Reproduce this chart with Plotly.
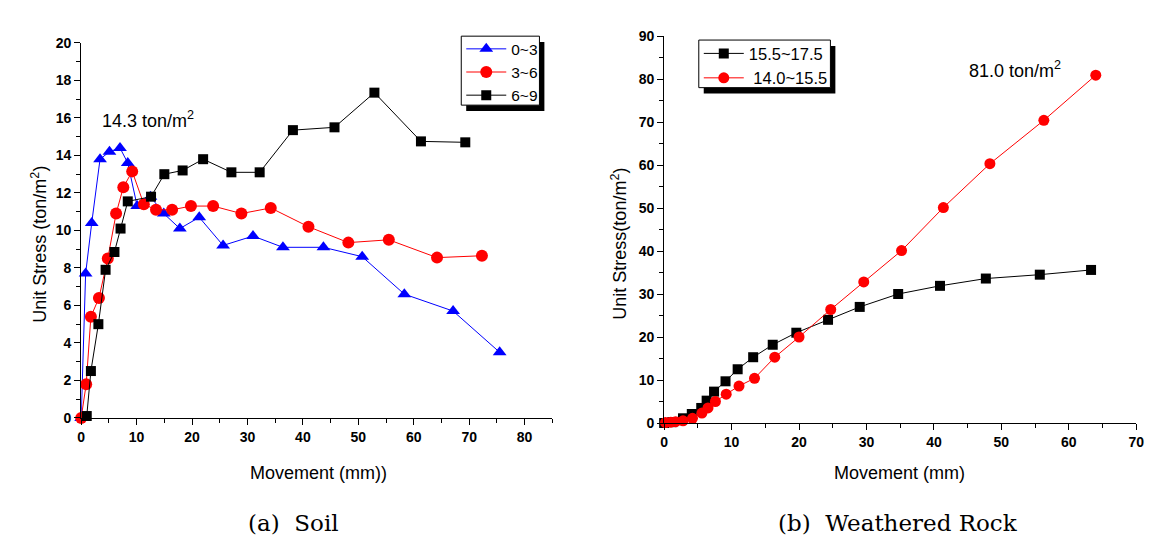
import plotly.graph_objects as go

W, H = 1168, 558

# ---------------- data: (a) Soil ----------------
soil_names = ["0~3", "3~6", "6~9"]
soil_x_03 = [0.0, 0.8, 1.9, 3.4, 5.1, 7.0, 8.4, 10.1, 12.5, 14.9, 17.8, 21.3, 25.6, 31.0, 36.4, 43.7, 50.7, 58.3, 67.1, 75.5]
soil_y_03 = [0.0, 7.7, 10.4, 13.8, 14.2, 14.4, 13.6, 11.3, 11.8, 10.9, 10.1, 10.7, 9.2, 9.7, 9.1, 9.1, 8.6, 6.6, 5.7, 3.5]
soil_x_36 = [0.0, 0.9, 1.75, 3.2, 4.8, 6.3, 7.6, 9.2, 11.3, 13.5, 16.4, 19.8, 23.8, 28.9, 34.2, 41.0, 48.2, 55.5, 64.2, 72.3]
soil_y_36 = [0.0, 1.8, 5.4, 6.4, 8.5, 10.9, 12.3, 13.15, 11.4, 11.1, 11.1, 11.3, 11.3, 10.9, 11.2, 10.2, 9.35, 9.5, 8.55, 8.65]
soil_x_69 = [1.0, 1.75, 3.1, 4.4, 6.0, 7.1, 8.4, 12.6, 15.0, 18.3, 22.0, 27.1, 32.2, 38.2, 45.7, 52.9, 61.3, 69.3]
soil_y_69 = [0.1, 2.5, 5.0, 7.9, 8.85, 10.1, 11.55, 11.8, 13.0, 13.2, 13.8, 13.1, 13.1, 15.35, 15.5, 17.35, 14.75, 14.7]

# ---------------- data: (b) Weathered Rock ----------------
rock_names = ["15.5~17.5", " 14.0~15.5"]
rock_x_a = [0.0, 1.2, 2.8, 4.1, 5.5, 6.3, 7.4, 9.1, 10.9, 13.2, 16.1, 19.6, 24.3, 29.0, 34.7, 40.9, 47.7, 55.7, 63.3]
rock_y_a = [0.1, 0.3, 1.2, 2.2, 3.6, 5.3, 7.4, 9.8, 12.6, 15.4, 18.3, 21.1, 24.1, 27.1, 30.1, 32.0, 33.7, 34.6, 35.7]
rock_x_b = [0.2, 1.0, 1.7, 2.8, 4.2, 5.6, 6.5, 7.6, 9.2, 11.1, 13.4, 16.4, 20.0, 24.7, 29.6, 35.2, 41.4, 48.3, 56.3, 64.0]
rock_y_b = [0.2, 0.3, 0.4, 0.6, 1.2, 2.4, 3.6, 5.1, 6.8, 8.7, 10.5, 15.4, 20.1, 26.5, 32.9, 40.2, 50.2, 60.4, 70.5, 81.0]

def px(x):
    return x / W

def py(y):
    return 1 - y / H

fig = go.Figure()

def add(x, y, name, color, symbol, size, xa, ya, legend):
    fig.add_trace(go.Scatter(
        x=x, y=y, name=name, mode="lines+markers",
        line=dict(color=color, width=1),
        marker=dict(color=color, symbol=symbol, size=size, line=dict(width=0)),
        xaxis=xa, yaxis=ya, legend=legend, cliponaxis=False))

add(soil_x_03, soil_y_03, soil_names[0], "#0000FF", "triangle-up", 12, "x", "y", "legend")
add(soil_x_36, soil_y_36, soil_names[1], "#FF0000", "circle", 12, "x", "y", "legend")
add(soil_x_69, soil_y_69, soil_names[2], "#000000", "square", 10, "x", "y", "legend")
add(rock_x_a, rock_y_a, rock_names[0], "#000000", "square", 10, "x2", "y2", "legend2")
add(rock_x_b, rock_y_b, rock_names[1], "#FF0000", "circle", 11, "x2", "y2", "legend2")

tickfont = dict(family="Liberation Sans, Arial", size=14, color="black", weight="bold")
axcommon = dict(showgrid=False, zeroline=False, showline=True, linecolor="black", linewidth=1,
                ticks="outside", ticklen=6, tickwidth=1, tickcolor="black", tickfont=tickfont,
                mirror=False)

fig.update_layout(
    width=W, height=H, margin=dict(l=0, r=0, t=0, b=0),
    paper_bgcolor="white", plot_bgcolor="white",
    xaxis=dict(domain=[px(78), px(554)], range=[0, 85], dtick=10, tick0=0,
               minor=dict(dtick=5, ticklen=4, ticks="outside", tickcolor="black"),
               anchor="y", **axcommon),
    yaxis=dict(domain=[py(422), py(36)], range=[0, 20], dtick=2, tick0=0,
               minor=dict(dtick=1, ticklen=4, ticks="outside", tickcolor="black"),
               anchor="x", **axcommon),
    xaxis2=dict(domain=[px(667), px(1144)], range=[0, 70], dtick=10, tick0=0,
                minor=dict(dtick=5, ticklen=4, ticks="outside", tickcolor="black"),
                anchor="y2", **axcommon),
    yaxis2=dict(domain=[py(427.7), py(29.3)], range=[0, 90], dtick=10, tick0=0,
                minor=dict(dtick=5, ticklen=4, ticks="outside", tickcolor="black"),
                anchor="x2", **axcommon),
    legend=dict(x=px(462), y=py(25), xanchor="left", yanchor="top",
                bgcolor="rgba(0,0,0,0)", borderwidth=0,
                font=dict(family="Liberation Sans, Arial", size=15.5, color="black"),
                tracegroupgap=0, itemwidth=40),
    legend2=dict(x=px(702), y=py(29), xanchor="left", yanchor="top",
                 bgcolor="rgba(0,0,0,0)", borderwidth=0,
                 font=dict(family="Liberation Sans, Arial", size=16.5, color="black"),
                 tracegroupgap=0, itemwidth=40),
    showlegend=True,
)

# legend frames with drop shadows (shadow first, white framed box on top)
for (l, t, r, b) in [(462, 29, 541, 100), (702, 33, 835, 82)]:
    fig.add_shape(type="rect", xref="paper", yref="paper",
                  x0=px(l + 5), x1=px(r + 5), y0=py(b + 6), y1=py(t + 6),
                  fillcolor="black", line=dict(width=0), layer="above")
    fig.add_shape(type="rect", xref="paper", yref="paper",
                  x0=px(l), x1=px(r), y0=py(b), y1=py(t),
                  fillcolor="white", line=dict(color="black", width=1), layer="above")

afont = dict(family="Liberation Sans, Arial", size=18, color="black")
cfont = dict(family="DejaVu Serif, Liberation Serif", size=23, color="black")
ann = [
    dict(text="14.3 ton/m<sup>2</sup>", x=px(97), y=py(115), xanchor="left", yanchor="middle", font=afont),
    dict(text="81.0 ton/m<sup>2</sup>", x=px(973), y=py(63), xanchor="left", yanchor="middle", font=afont),
    dict(text="Movement (mm))", x=px(318), y=py(479), xanchor="center", yanchor="middle", font=afont),
    dict(text="Movement (mm)", x=px(905), y=py(479), xanchor="center", yanchor="middle", font=afont),
    dict(text="Unit Stress (ton/m<sup>2</sup>)", x=px(35), y=py(243), xanchor="center", yanchor="middle",
         textangle=-90, font=afont),
    dict(text="Unit Stress(ton/m<sup>2</sup>)", x=px(621), y=py(243), xanchor="center", yanchor="middle",
         textangle=-90, font=afont),
    dict(text="(a)\u00a0\u00a0Soil", x=px(293), y=py(530), xanchor="center", yanchor="middle", font=cfont),
    dict(text="(b)\u00a0\u00a0Weathered\u00a0Rock", x=px(903), y=py(530), xanchor="center", yanchor="middle", font=cfont),
]
for a in ann:
    a.update(xref="paper", yref="paper", showarrow=False)
    fig.add_annotation(**a)

fig.write_html("out.html")
